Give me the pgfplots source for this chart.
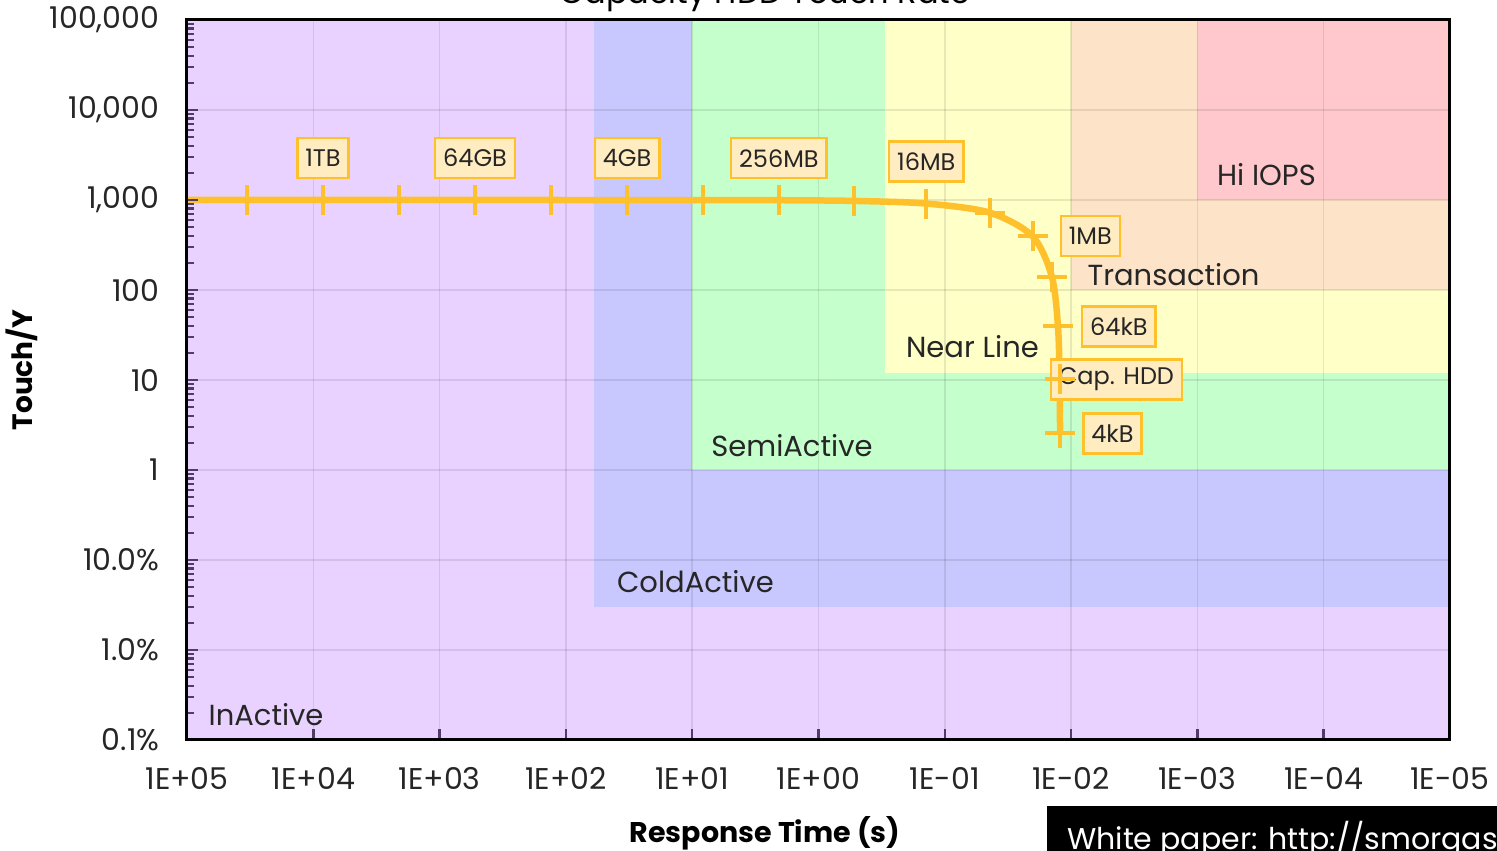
\documentclass[border=0pt]{standalone}
\usepackage{pgfplots}
\pgfplotsset{compat=1.18}
\usepackage{fontspec}
\setmainfont{Poppins}
\definecolor{cInact}{RGB}{233,210,255}
\definecolor{cCold}{RGB}{200,200,255}
\definecolor{cSemi}{RGB}{196,255,204}
\definecolor{cNear}{RGB}{255,255,200}
\definecolor{cTrans}{RGB}{253,228,200}
\definecolor{cHi}{RGB}{255,200,204}
\definecolor{cCurve}{RGB}{254,193,44}
\definecolor{cBox}{RGB}{255,236,192}
\definecolor{cTick}{RGB}{80,60,100}
\newcommand{\bigf}{\fontsize{30}{35}\selectfont}
\newcommand{\regf}{\fontsize{29}{34}\selectfont}
\newcommand{\boxf}{\fontsize{24}{28}\selectfont}
\tikzset{
  lbl/.style={draw=cCurve, fill=cBox, line width=2.5pt, font=\boxf, text=black!85,
    minimum height=40pt, inner xsep=8pt, inner ysep=4pt},
  reg/.style={font=\regf, text=black!85, anchor=base},
}
\begin{document}
\begin{tikzpicture}
\begin{axis}[
  axis on top,
  at={(187pt,111pt)}, anchor=south west,
  scale only axis, width=1263pt, height=720pt,
  xmode=log, ymode=log, x dir=reverse,
  xmin=1e-5, xmax=1e5, ymin=1e-3, ymax=1e5,
  xtick={1e5,1e4,1e3,1e2,1e1,1,1e-1,1e-2,1e-3,1e-4,1e-5},
  xticklabels={1E+05,1E+04,1E+03,1E+02,1E+01,1E+00,1E-01,1E-02,1E-03,1E-04,1E-05},
  ytick={1e-3,1e-2,1e-1,1,10,100,1000,1e4,1e5},
  yticklabels={0.1\%,1.0\%,10.0\%,1,10,100,{1,000},{10,000},{100,000}},
  tick align=inside, tick pos=left,
  major tick length=11pt, minor tick length=7pt,
  tick style={draw=cTick, line width=2.5pt},
  axis line style={line width=3pt, black},
  ticklabel style={font=\bigf, text=black!85},
  xticklabel style={yshift=-24pt},
  yticklabel style={xshift=-24pt},
]
\addplot[draw=none, fill=cInact] coordinates {(1e5,1e-3) (1e-5,1e-3) (1e-5,1e5) (1e5,1e5)} -- cycle;
\addplot[draw=none, fill=cCold] coordinates {(60,0.03) (1e-5,0.03) (1e-5,1e5) (60,1e5)} -- cycle;
\addplot[draw=none, fill=cSemi] coordinates {(10,1) (1e-5,1) (1e-5,1e5) (10,1e5)} -- cycle;
\addplot[draw=none, fill=cNear] coordinates {(0.3,12) (1e-5,12) (1e-5,1e5) (0.3,1e5)} -- cycle;
\addplot[draw=none, fill=cTrans] coordinates {(0.01,100) (1e-5,100) (1e-5,1e5) (0.01,1e5)} -- cycle;
\addplot[draw=none, fill=cHi] coordinates {(0.001,1000) (1e-5,1000) (1e-5,1e5) (0.001,1e5)} -- cycle;
% grid lines on top of the zones
\pgfplotsinvokeforeach{1e4,1e3,1e2,1e1,1,1e-1,1e-2,1e-3,1e-4}{
  \addplot[draw=black, draw opacity=0.09, line width=1.5pt] coordinates {(#1,1e-3) (#1,1e5)};
}
\pgfplotsinvokeforeach{1e-2,1e-1,1,10,100,1000,1e4}{
  \addplot[draw=black, draw opacity=0.09, line width=1.5pt] coordinates {(1e5,#1) (1e-5,#1)};
}

\node[reg] at (rel axis cs:0.0626,0.0208) {InActive};
\node[reg] at (rel axis cs:0.4026,0.2042) {ColdActive};
\node[reg] at (rel axis cs:0.4790,0.3944) {SemiActive};
\node[reg] at (rel axis cs:0.6219,0.5319) {Near Line};
\node[reg] at (rel axis cs:0.7811,0.6319) {Transaction};
\node[reg] at (rel axis cs:0.8547,0.7708) {Hi IOPS};

\addplot[cCurve, line width=6.5pt, smooth, tension=0.5, mark=+, mark size=15pt, mark options={line width=4pt, solid}] coordinates {
(134085,1000.0)
(33521,1000.0)
(8380,1000.0)
(2095,1000.0)
(523.8,1000.0)
(130.95,999.9)
(32.75,999.6)
(8.196,998.6)
(2.058,994.2)
(0.5237,976.8)
(0.1401,913.0)
(0.04417,723.9)
(0.02019,395.9)
(0.01420,140.8)
(0.01270,39.34)
(0.012325,10.13)
(0.012231,2.553)
};

\node[lbl, yshift=42pt] at (axis cs:8380,1000) {1TB};
\node[lbl, yshift=42pt] at (axis cs:523.8,1000) {64GB};
\node[lbl, yshift=42pt] at (axis cs:32.75,999.6) {4GB};
\node[lbl, yshift=42pt] at (axis cs:2.058,994.2) {256MB};
\node[lbl, yshift=42pt] at (axis cs:0.1401,913.0) {16MB};
\node[lbl, anchor=west, xshift=27pt] at (axis cs:0.02019,395.9) {1MB};
\node[lbl, anchor=west, xshift=23pt] at (axis cs:0.01270,39.34) {64kB};
\node[lbl, anchor=west, xshift=-10pt] at (axis cs:0.012325,10.13) {Cap. HDD};
\node[lbl, anchor=west, xshift=22pt] at (axis cs:0.012231,2.553) {4kB};
\end{axis}
\node[rotate=90, font=\fontsize{28}{33}\selectfont\bfseries] at (22pt,481pt) {Touch/Y};
\node[font=\fontsize{28.5}{33}\selectfont\bfseries, anchor=base] at (765pt,8pt) {Response Time (s)};
\node[font=\fontsize{32}{38}\selectfont, anchor=base] at (765pt,847pt) {Capacity HDD Touch Rate};
\fill[black] (1047pt,-10pt) rectangle (1510pt,45pt);
\node[font=\fontsize{30}{35}\selectfont, text=white, anchor=base west, inner sep=0pt] at (1067pt,1pt) {White paper: http://smorgas};
\pgfresetboundingbox
\path[use as bounding box] (0pt,0pt) rectangle (1497pt,851pt);
\end{tikzpicture}
\end{document}
